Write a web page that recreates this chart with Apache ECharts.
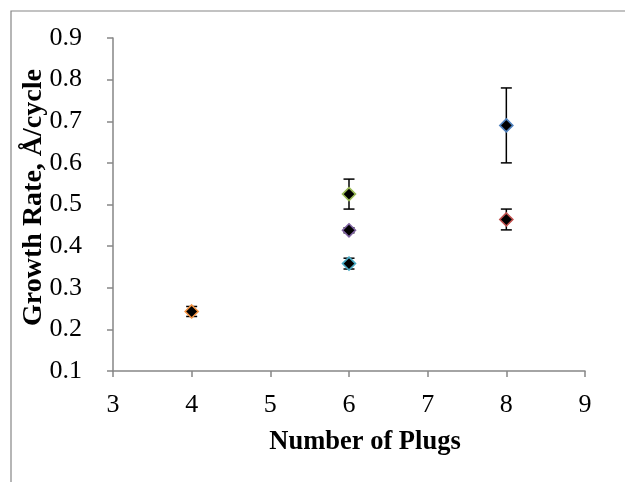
<!DOCTYPE html>
<html>
<head>
<meta charset="utf-8">
<script src="https://cdn.jsdelivr.net/npm/echarts@6/dist/echarts.min.js"></script>
<style>
  html, body { margin: 0; padding: 0; background: #fff; }
  #chart { width: 625px; height: 482px; }
</style>
</head>
<body>
<div id="chart"></div>
<script>
// data
var plugs = [4, 6, 6, 6, 8, 8];
var rates = [0.243, 0.525, 0.438, 0.358, 0.69, 0.464];
var errors = [0.012, 0.036, 0.006, 0.013, 0.09, 0.025];
var edgeColors = ['#F79646', '#9BBB59', '#8064A2', '#4BACC6', '#4F81BD', '#C0504D'];
var xTicks = [3, 4, 5, 6, 7, 8, 9];
var yTicks = [0.1, 0.2, 0.3, 0.4, 0.5, 0.6, 0.7, 0.8, 0.9];

var fontFam = '"Liberation Serif", "Times New Roman", serif';
var axisGray = '#868686';

var chart = echarts.init(document.getElementById('chart'));

// error bars drawn with custom series
var errData = [];
for (var i = 0; i < plugs.length; i++) {
    errData.push([plugs[i], rates[i] - errors[i], rates[i] + errors[i]]);
}

var series = [{
    name: 'err',
    type: 'custom',
    z: 1,
    renderItem: function (params, api) {
        var lo = api.coord([api.value(0), api.value(1)]);
        var hi = api.coord([api.value(0), api.value(2)]);
        var w = 5.5;
        var st = { stroke: '#000', lineWidth: 1.5 };
        return {
            type: 'group',
            children: [
                { type: 'line', shape: { x1: lo[0], y1: lo[1], x2: hi[0], y2: hi[1] }, style: st },
                { type: 'line', shape: { x1: lo[0] - w, y1: lo[1], x2: lo[0] + w, y2: lo[1] }, style: st },
                { type: 'line', shape: { x1: hi[0] - w, y1: hi[1], x2: hi[0] + w, y2: hi[1] }, style: st }
            ]
        };
    },
    data: errData
}];

for (var j = 0; j < plugs.length; j++) {
    series.push({
        type: 'scatter',
        z: 3,
        symbol: 'diamond',
        symbolSize: 13,
        itemStyle: {
            color: '#000',
            borderColor: edgeColors[j],
            borderWidth: 1.6,
            opacity: 1
        },
        emphasis: { disabled: true },
        data: [[plugs[j], rates[j]]]
    });
}

var option = {
    backgroundColor: '#fff',
    animation: false,
    grid: { left: 113, right: 40, top: 38, bottom: 111 },
    xAxis: {
        type: 'value',
        min: xTicks[0],
        max: xTicks[xTicks.length - 1],
        interval: 1,
        name: 'Number of Plugs',
        nameLocation: 'middle',
        nameGap: 58,
        nameMoveOverlap: false,
        nameTextStyle: {
            fontFamily: fontFam, fontSize: 26.5, fontWeight: 'bold', color: '#000',
            padding: [0, 0, 0, 32]
        },
        axisLine: { show: true, lineStyle: { color: axisGray, width: 1.5 } },
        axisTick: { show: true, inside: false, length: 6, lineStyle: { color: axisGray, width: 1.5 } },
        axisLabel: { margin: 21, fontFamily: fontFam, fontSize: 26, color: '#000' },
        splitLine: { show: false }
    },
    yAxis: {
        type: 'value',
        min: yTicks[0],
        max: yTicks[yTicks.length - 1],
        interval: 0.1,
        name: 'Growth Rate, Å/cycle',
        nameLocation: 'middle',
        nameGap: 65,
        nameRotate: 90,
        nameMoveOverlap: false,
        nameTextStyle: {
            fontFamily: fontFam, fontSize: 28, fontWeight: 'bold', color: '#000',
            padding: [0, 0, 0, 14]
        },
        axisLine: { show: true, lineStyle: { color: axisGray, width: 1.5 } },
        axisTick: { show: true, inside: false, length: 6, lineStyle: { color: axisGray, width: 1.5 } },
        axisLabel: {
            margin: 31, fontFamily: fontFam, fontSize: 26, color: '#000',
            formatter: function (v) { return v.toFixed(1); }
        },
        splitLine: { show: false }
    },
    graphic: [{
        type: 'polyline',
        silent: true,
        shape: { points: [[11, 482], [11, 11], [625, 11]] },
        style: { stroke: axisGray, lineWidth: 1.2, fill: null }
    }],
    series: series
};

chart.setOption(option);

window.addEventListener('resize', function () {
    chart.resize();
});
</script>
</body>
</html>
